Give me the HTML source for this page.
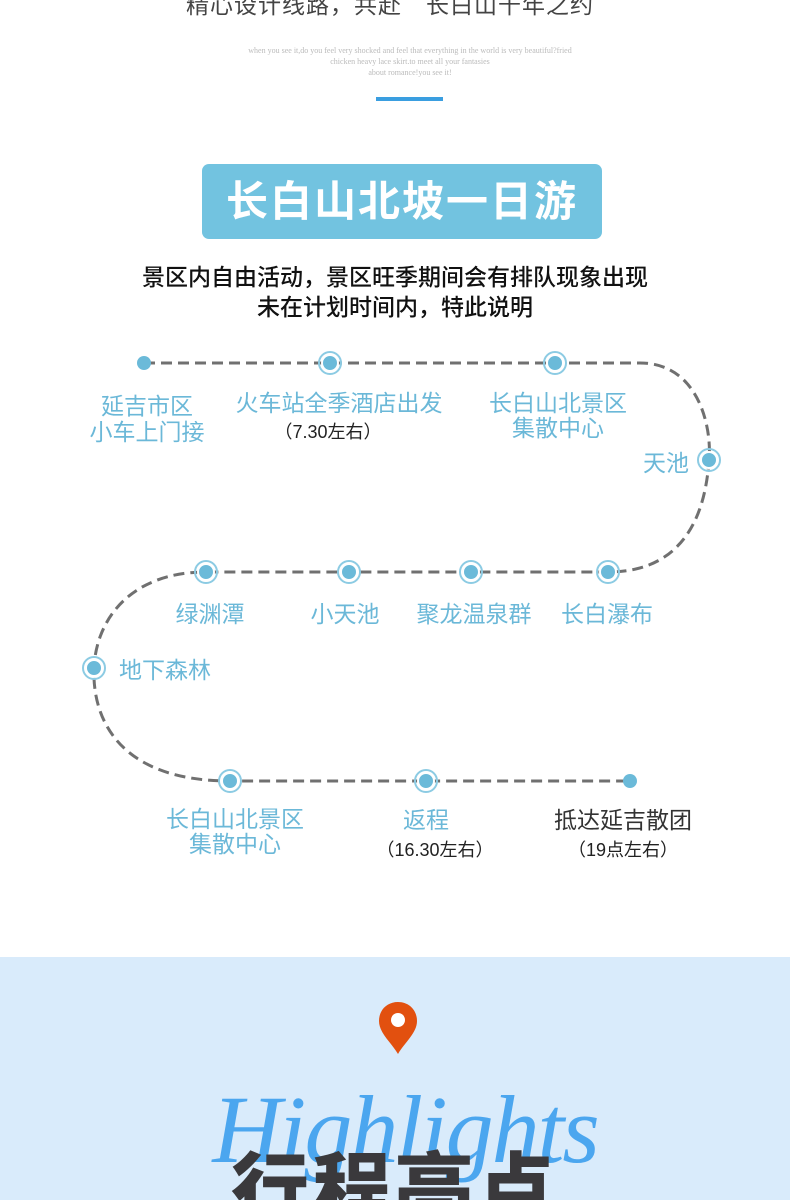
<!DOCTYPE html>
<html style="margin:0;width:790px;height:1200px;overflow:hidden"><head><meta charset="utf-8"><style>
body{margin:0;width:790px;height:1200px;overflow:hidden;background:#fff;position:relative;font-family:"Liberation Sans","Noto Sans CJK SC",sans-serif}
.a{position:absolute;white-space:nowrap;transform:translateX(-50%)}
.l{color:#6bb8d8;font-size:23px;line-height:26px}
.k{color:#222;font-size:18px;line-height:22px}
</style></head><body>
<div class="a" style="left:390px;top:-14px;font-size:23px;color:#444;letter-spacing:1px">精心设计线路，共赴　长白山千年之约</div>
<div class="a" style="left:410px;top:45px;font-family:'Liberation Serif',serif;font-size:8px;line-height:11px;color:#bbb;text-align:center">when you see it,do you feel very shocked and feel that everything in the world is very beautiful?fried<br>chicken heavy lace skirt.to meet all your fantasies<br>about romance!you see it!</div>
<div style="position:absolute;left:376px;top:97px;width:67px;height:4px;background:#3a9ee0"></div>
<div style="position:absolute;left:202px;top:164px;width:400px;height:75px;background:#72c3e0;border-radius:7px"></div>
<div class="a" style="left:402px;top:177px;font-size:42px;line-height:50px;color:#fff;font-weight:bold;letter-spacing:2px">长白山北坡一日游</div>
<div class="a" style="left:395px;top:262px;font-size:23px;line-height:30px;color:#111;text-align:center;font-weight:500">景区内自由活动，景区旺季期间会有排队现象出现<br>未在计划时间内，特此说明</div>
<svg style="position:absolute;left:0;top:0" width="790" height="960">
<g fill="none" stroke="#707070" stroke-width="3" stroke-dasharray="11,6">
<path d="M144,363 L640,363 C700,363 712,430 709,460 C706,505 690,572 608,572 L206,572 C130,572 96,620 94,668 C92,720 120,781 230,781 L630,781"/>
</g>
<g fill="#6bbad9">
<circle cx="144" cy="363" r="7"/><circle cx="630" cy="781" r="7"/>
</g>
<g fill="#6bbad9" stroke="#fff" stroke-width="2">
<circle cx="330" cy="363" r="8"/><circle cx="555" cy="363" r="8"/><circle cx="709" cy="460" r="8"/>
<circle cx="608" cy="572" r="8"/><circle cx="471" cy="572" r="8"/><circle cx="349" cy="572" r="8"/><circle cx="206" cy="572" r="8"/>
<circle cx="94" cy="668" r="8"/><circle cx="230" cy="781" r="8"/><circle cx="426" cy="781" r="8"/>
</g>
<g fill="none" stroke="#8ccbe3" stroke-width="2">
<circle cx="330" cy="363" r="11"/><circle cx="555" cy="363" r="11"/><circle cx="709" cy="460" r="11"/>
<circle cx="608" cy="572" r="11"/><circle cx="471" cy="572" r="11"/><circle cx="349" cy="572" r="11"/><circle cx="206" cy="572" r="11"/>
<circle cx="94" cy="668" r="11"/><circle cx="230" cy="781" r="11"/><circle cx="426" cy="781" r="11"/>
</g>
</svg>
<div class="a l" style="left:147px;top:393px;text-align:center">延吉市区<br>小车上门接</div>
<div class="a l" style="left:339px;top:390px">火车站全季酒店出发</div>
<div class="a k" style="left:328px;top:421px">（7.30左右）</div>
<div class="a l" style="left:558px;top:391px;text-align:center;line-height:25px">长白山北景区<br>集散中心</div>
<div class="a l" style="left:666px;top:450px">天池</div>
<div class="a l" style="left:210px;top:601px">绿渊潭</div>
<div class="a l" style="left:345px;top:601px">小天池</div>
<div class="a l" style="left:474px;top:601px">聚龙温泉群</div>
<div class="a l" style="left:607px;top:601px">长白瀑布</div>
<div class="a l" style="left:165px;top:657px">地下森林</div>
<div class="a l" style="left:235px;top:807px;text-align:center;line-height:25px">长白山北景区<br>集散中心</div>
<div class="a l" style="left:426px;top:807px">返程</div>
<div class="a k" style="left:435px;top:839px">（16.30左右）</div>
<div class="a l" style="left:623px;top:807px;color:#333">抵达延吉散团</div>
<div class="a k" style="left:623px;top:839px">（19点左右）</div>
<div style="position:absolute;left:0;top:957px;width:790px;height:243px;background:#d9ebfb"></div>
<svg style="position:absolute;left:377px;top:1000px" width="42" height="56" viewBox="0 0 42 56">
<path d="M21,2 C10,2 2,10 2,21 C2,33 14,42 21,54 C28,42 40,33 40,21 C40,10 32,2 21,2Z" fill="#e2500f"/>
<circle cx="21" cy="20" r="7" fill="#fff"/>
</svg>
<div class="a" style="left:405px;top:1075px;font-family:'Liberation Serif',serif;font-style:italic;font-size:96px;line-height:110px;color:#4ba6ef;letter-spacing:-2px">Highlights</div>
<div class="a" style="left:395px;top:1140px;font-size:78px;line-height:100px;font-weight:900;color:#3a393c;letter-spacing:4px">行程亮点</div>
</body></html>
